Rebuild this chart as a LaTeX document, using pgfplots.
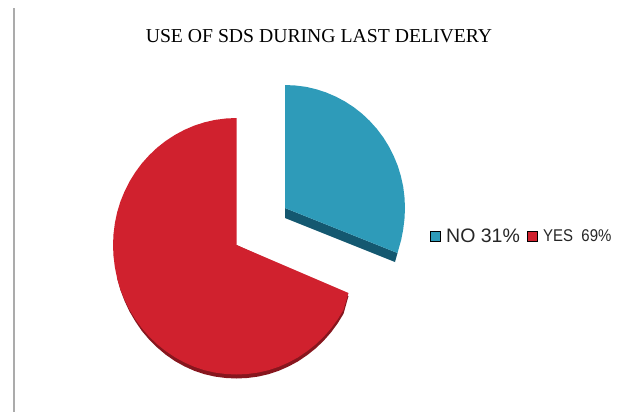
\documentclass[border=0pt]{standalone}
\usepackage{graphicx}
\usepackage{pgfplots}
\pgfplotsset{compat=1.18}
\usepackage{fontspec}
\setmainfont{Liberation Serif}
\newfontfamily\legendfont{Liberation Sans}
\definecolor{noblue}{RGB}{46,155,185}
\definecolor{nodark}{RGB}{20,88,112}
\definecolor{yesred}{RGB}{208,33,46}
\definecolor{yesdark}{RGB}{135,22,30}
\begin{document}
\begin{tikzpicture}
\begin{axis}[
    width=619pt, height=412pt,
    scale only axis,
    hide axis,
    clip=false,
    xmin=0, xmax=619,
    ymin=0, ymax=412,
    y dir=reverse,
]
% keep the whole page
\path (axis cs:0,0) -- (axis cs:619,412);
% frame line on the left
\addplot[draw=black!33, line width=1.6pt] coordinates {(14,8) (14,412)};
% side of the NO slice
\addplot[fill=nodark, draw=none] coordinates {
    (285,208) (397.5,253) (395,262) (285,218)
} -- cycle;
% NO slice, 31%
\addplot[fill=noblue, draw=none] coordinates {
    (285,208) (285,85) (295.4,85.5) (305.9,86.8) (316.1,89.2) (326,92.4)
    (335.8,96.6) (345,101.5) (353.9,107.3) (362.2,113.8) (369.8,121)
    (376.9,128.9) (383.3,137.4) (388.9,146.5) (393.7,156) (397.8,165.9)
    (400.9,176.2) (403.2,186.6) (404.5,197.3) (405,208) (404.5,218.7)
    (403.2,229.4) (401.2,239.8) (397.5,253)
} -- cycle;
% rim under the YES slice
\addplot[fill=yesdark, draw=none] coordinates {
    (117.2,278.6) (120.4,290) (124.6,301) (129.5,311.5) (135.4,321.5) (141.9,331)
    (149.2,339.6) (157.1,347.4) (165.6,354.6) (174.8,361) (184.3,366.3)
    (194.3,370.8) (204.5,374.2) (215,376.6) (225.8,378) (236.5,378.5)
    (247.2,378) (258,376.6) (268.5,374.2) (278.7,370.8) (288.7,366.4)
    (298.3,361.2) (307.4,355) (315.9,348.2) (323.8,340.6) (331.1,332.3)
    (337.6,323.4) (343.5,313.8) (348.5,296) (236.5,245)
} -- cycle;
% YES slice, 69%
\addplot[fill=yesred, draw=none] coordinates {
    (236.5,245) (236.5,118) (225.8,118.5) (215,119.9) (204.5,122.3) (194.3,125.6)
    (184.3,129.9) (174.8,135) (165.6,141) (157.1,147.7) (149.2,155.2)
    (141.9,163.3) (135.4,172.1) (129.5,181.5) (124.6,191.3) (120.4,201.6)
    (117.2,212.1) (114.9,222.9) (113.5,234) (113,245) (113.5,256.2)
    (114.9,267.5) (117.2,278.6) (120.4,289.3) (124.6,299.8) (129.5,309.8)
    (135.4,319.4) (141.9,328.3) (149.2,336.6) (157.1,344.2) (165.6,351)
    (174.8,357.2) (184.3,362.4) (194.3,366.8) (204.5,370.2) (215,372.6)
    (225.8,374) (236.5,374.5) (247.2,374) (258,372.6) (268.5,370.2)
    (278.7,366.8) (288.7,362.4) (298.3,357.2) (307.4,351) (315.9,344.2)
    (323.8,336.6) (331.1,328.3) (337.6,319.4) (343.5,309.8) (348.5,293)
} -- cycle;
% legend keys
\addplot[only marks, mark=square*, mark size=5pt, mark options={fill=noblue, draw=none}] coordinates {(435,236)};
\addplot[only marks, mark=square*, mark size=5pt, mark options={fill=yesred, draw=none}] coordinates {(532,236)};
\node[anchor=center, font=\fontsize{19.7}{22}\selectfont] at (axis cs:319,36) {USE OF SDS DURING LAST DELIVERY};
\node[anchor=west, inner sep=0pt, font=\legendfont\fontsize{19.5}{22}\selectfont, text=black!85] at (axis cs:446,236) {NO 31\%};
\node[anchor=west, inner sep=0pt, font=\legendfont\fontsize{17}{20}\selectfont, text=black!85] at (axis cs:543,236) {\scalebox{0.88}[1]{YES\ \ 69\%}};
\end{axis}
\end{tikzpicture}
\end{document}
